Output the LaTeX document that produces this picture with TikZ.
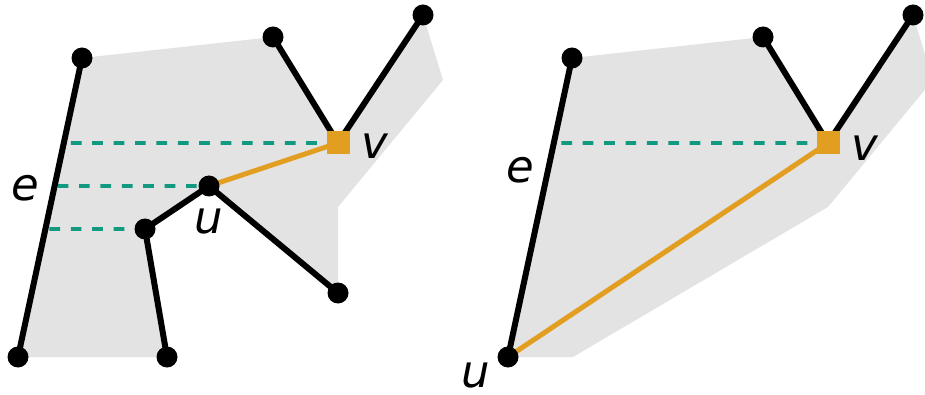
\documentclass[tikz,border=0pt]{standalone}
\usepackage{fontspec}
\setmainfont{DejaVu Sans}
\usetikzlibrary{calc}
\definecolor{regiongray}{HTML}{E3E3E3}
\definecolor{guidecol}{HTML}{119A80}
\definecolor{gold}{HTML}{E29E20}
\begin{document}
\begin{tikzpicture}[x=1pt,y=-1pt,
  dot/.style={circle,fill=black,inner sep=0pt,minimum size=21pt},
  sq/.style={rectangle,fill=gold,inner sep=0pt,minimum size=23pt},
  edge/.style={line width=6pt},
  hl/.style={line width=5pt,draw=gold},
  guide/.style={draw=guidecol,line width=3.6pt,dash pattern=on 10.7pt off 10.7pt},
  lab/.style={font=\fontsize{45}{50}\selectfont\itshape,inner sep=0pt}]
\useasboundingbox (0,0) rectangle (925,395);
\begin{scope}
\clip (0,0) rectangle (925,395);
\fill[regiongray] (82,58) -- (273,37) -- (338,143) -- (423,15) -- (443,80) -- (338,207) -- (338,293) -- (209,186) -- (145,229) -- (167,357) -- (18,357) -- cycle;
\fill[regiongray] (572,58) -- (763,37) -- (828,143) -- (913,15) -- (933,80) -- (828,207) -- (573,357) -- (508,357) -- cycle;
\end{scope}
% left nodes
\coordinate (A) at (82,58);
\coordinate (B) at (18,357);
\coordinate (C) at (273,37);
\coordinate (D) at (423,15);
\coordinate (V) at (338,143);
\coordinate (U) at (209,186);
\coordinate (W) at (145,229);
\coordinate (X) at (167,357);
\coordinate (Y) at (338,293);
% right nodes
\coordinate (A2) at (572,58);
\coordinate (U2) at (508,357);
\coordinate (C2) at (763,37);
\coordinate (D2) at (913,15);
\coordinate (V2) at (828,143);
% guides
\draw[guide,dash phase=14.4pt] ($(A)!0.2843!(B)$) -- ($(V)+(-11.5,0)$);
\draw[guide,dash phase=18.4pt] ($(A)!0.4281!(B)$) -- ($(U)+(-10.5,0)$);
\draw[guide,dash phase=17.4pt] ($(A)!0.5719!(B)$) -- ($(W)+(-10.5,0)$);
\draw[guide,dash phase=13.9pt] ($(A2)!0.2843!(U2)$) -- ($(V2)+(-11.5,0)$);
% highlighted edges
\draw[hl] (U) -- (V);
\draw[hl] (U2) -- (V2);
% black edges
\draw[edge] (A) -- (B);
\draw[edge] (C) -- (V);
\draw[edge] (D) -- (V);
\draw[edge] (U) -- (W);
\draw[edge] (W) -- (X);
\draw[edge] (U) -- (Y);
\draw[edge] (A2) -- (U2);
\draw[edge] (C2) -- (V2);
\draw[edge] (D2) -- (V2);
% vertices
\foreach \p in {A,B,C,D,U,W,X,Y,A2,U2,C2,D2} \node[dot] (n\p) at (\p) {};
\node[sq] (nV) at (V) {};
\node[sq] (nV2) at (V2) {};
% labels
\node[lab] (le) at (25,188) {e};
\node[lab] (lu) at (209,222) {u};
\node[lab] (lv) at (375,146) {v};
\node[lab] (le2) at (520,170) {e};
\node[lab] (lu2) at (476,376) {u};
\node[lab] (lv2) at (865,148) {v};
\end{tikzpicture}
\end{document}
